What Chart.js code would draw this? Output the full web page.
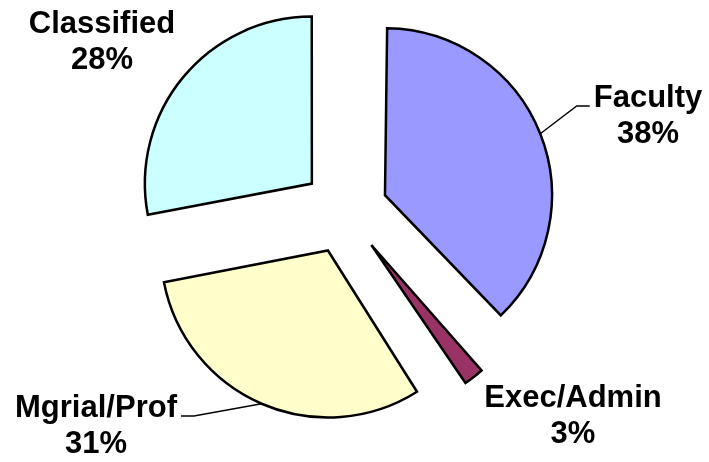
<!DOCTYPE html>
<html>
<head>
<meta charset="utf-8">
<script src="https://cdn.jsdelivr.net/npm/chart.js@4/dist/chart.umd.min.js"></script>
<style>
  html, body { margin: 0; padding: 0; background: #fff; }
  #wrap { width: 709px; height: 462px; }
</style>
</head>
<body>
<div id="wrap"><canvas id="pie" width="709" height="462"></canvas></div>
<script>
'use strict';

// ===== data =====
const categories = ['Faculty', 'Exec/Admin', 'Mgrial/Prof', 'Classified'];
const shares     = [38, 3, 31, 28];   // percent
const sliceColors = ['#9999FF', '#993366', '#FFFFCC', '#CCFFFF'];

// label placement relative to pie centre (centre x of text, baseline of first line)
const labelLayout = [
  { dx:  303, dy: -104, leader: true,  side: -1 },
  { dx:  228, dy:  196, leader: false },
  { dx: -249, dy:  206, leader: true,  side:  1 },
  { dx: -243, dy: -178, leader: false },
];

const FONT = 'bold 31px "Liberation Sans", Arial, sans-serif';
const LINE_H = 36;
const RADIUS = 167;
const EXPLODE = 43;   // px the slices are pulled out (Chart.js v4 draws offset/4)

// v4 grows the radius of narrow exploded slices (offset * (1 - sin(angle)));
// take that back so every slice keeps the same radius
const keepRadius = {
  id: 'keepRadius',
  afterDatasetUpdate(chart) {
    chart.getDatasetMeta(0).data.forEach(arc => {
      const fix = 1 - Math.sin(Math.min(Math.PI, arc.circumference));
      arc.outerRadius = RADIUS - EXPLODE * fix;
    });
  }
};

// draws the two-line labels and the leader lines
const pieLabels = {
  id: 'pieLabels',
  afterDatasetsDraw(chart) {
    const ctx = chart.ctx;
    const arcs = chart.getDatasetMeta(0).data;
    const total = shares.reduce((a, b) => a + b, 0);
    ctx.save();
    ctx.font = FONT;
    ctx.fillStyle = '#000';
    ctx.strokeStyle = '#000';
    ctx.lineWidth = 1.4;
    ctx.textAlign = 'center';
    ctx.textBaseline = 'alphabetic';

    arcs.forEach((arc, i) => {
      const lay = labelLayout[i];
      const cx = arc.x, cy = arc.y;
      const tx = cx + lay.dx, ty = cy + lay.dy;
      const name = categories[i];
      const pct = Math.round(shares[i] / total * 100) + '%';

      ctx.fillText(name, tx, ty);
      ctx.fillText(pct, tx, ty + LINE_H);

      if (lay.leader) {
        const mid = (arc.startAngle + arc.endAngle) / 2;
        const ax = cx + Math.cos(mid) * (EXPLODE + RADIUS);
        const ay = cy + Math.sin(mid) * (EXPLODE + RADIUS);
        const halfW = ctx.measureText(name).width / 2;
        const edge = tx + lay.side * halfW;            // near edge of the text
        const endX = edge + lay.side * 4;
        const elbowX = endX + lay.side * 13;
        ctx.beginPath();
        ctx.moveTo(endX, ty - 1);
        ctx.lineTo(elbowX, ty - 1);
        ctx.lineTo(ax, ay);
        ctx.stroke();
      }
    });
    ctx.restore();
  }
};

new Chart(document.getElementById('pie'), {
  type: 'pie',
  data: {
    labels: categories,
    datasets: [{
      data: shares,
      backgroundColor: sliceColors,
      borderColor: '#000',
      borderWidth: 2.5,
      borderJoinStyle: 'miter',
      offset: EXPLODE * 4,
      hoverOffset: 0,
    }],
  },
  options: {
    responsive: false,
    animation: false,
    radius: RADIUS,
    layout: { padding: { left: 0, right: 19, top: 0, bottom: 40 } },
    plugins: {
      legend: { display: false },
      tooltip: { enabled: false },
    },
  },
  plugins: [keepRadius, pieLabels],
});
</script>
</body>
</html>
